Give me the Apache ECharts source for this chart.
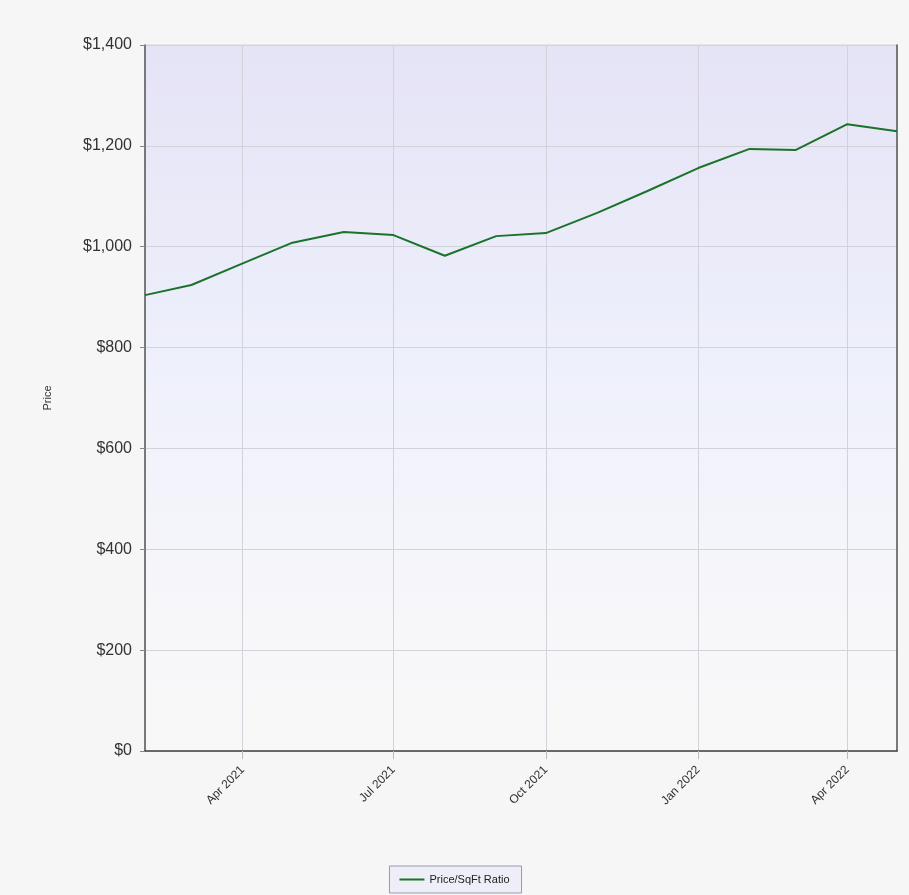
<!DOCTYPE html>
<html>
<head>
<meta charset="utf-8">
<script src="https://cdn.jsdelivr.net/npm/echarts@6/dist/echarts.min.js"></script>
<style>
html,body{margin:0;padding:0;background:#f6f6f6;}
#c{width:909px;height:895px;}
</style>
</head>
<body>
<div id="c"></div>
<script>
const months = ['2021-02-01','2021-03-01','2021-04-01','2021-05-01','2021-06-01','2021-07-01','2021-08-01','2021-09-01','2021-10-01','2021-11-01','2021-12-01','2022-01-01','2022-02-01','2022-03-01','2022-04-01','2022-05-01'];
const pricePerSqFt = [904, 924, 967, 1008, 1029, 1023, 982, 1021, 1027, 1067, 1110, 1156, 1194, 1192, 1243, 1229];
const xTicks = ['2021-04-01','2021-07-01','2021-10-01','2022-01-01','2022-04-01'];
const xTickLabels = ['Apr 2021','Jul 2021','Oct 2021','Jan 2022','Apr 2022'];
const yTicks = [0, 200, 400, 600, 800, 1000, 1200, 1400];
const seriesName = 'Price/SqFt Ratio';

const ts = s => { const p = s.split('-').map(Number); return Date.UTC(p[0], p[1]-1, p[2]); };
const tickTs = xTicks.map(ts);
const labelMap = {};
tickTs.forEach((t,i)=>{ labelMap[t] = xTickLabels[i]; });

const chart = echarts.init(document.getElementById('c'));
chart.setOption({
  backgroundColor: '#f6f6f6',
  animation: false,
  grid: {
    left: 145, right: 12, top: 45, bottom: 144,
    show: true,
    borderColor: '#d6d6d6',
    borderWidth: 1,
    backgroundColor: new echarts.graphic.LinearGradient(0,0,0,1,[
      {offset:0, color:'#e5e3f6'},
      {offset:0.45, color:'#eef0fb'},
      {offset:0.8, color:'#f7f7fa'},
      {offset:1, color:'#f8f8f8'}
    ])
  },
  legend: {
    bottom: 2,
    left: 'center',
    data: [{name: seriesName, icon: 'rect'}],
    itemWidth: 25,
    itemHeight: 2,
    itemGap: 6,
    padding: [8, 12, 8, 10],
    borderColor: '#9a9aa8',
    borderWidth: 1,
    borderRadius: 0,
    backgroundColor: '#eeeef8',
    textStyle: {fontFamily: 'Liberation Sans, Arial, sans-serif', fontSize: 11, color: '#222'}
  },
  xAxis: {
    type: 'value',
    min: ts(months[0]),
    max: ts(months[months.length-1]),
    axisLine: {show: true, lineStyle: {color: '#444', width: 1.5}},
    axisTick: {show: true, length: 8, customValues: tickTs, lineStyle: {color: '#bbb'}},
    axisLabel: {
      customValues: tickTs,
      rotate: 45,
      margin: 17,
      fontFamily: 'Liberation Sans, Arial, sans-serif',
      fontSize: 12,
      color: '#333',
      formatter: v => labelMap[v] || ''
    },
    splitLine: {show: true, lineStyle: {color: '#d2d2da', width: 1}}
  },
  yAxis: [{
    type: 'value',
    min: 0, max: 1400, interval: 200,
    name: 'Price',
    nameLocation: 'middle',
    nameGap: 92,
    nameTextStyle: {fontFamily: 'Liberation Sans, Arial, sans-serif', fontSize: 11, color: '#333'},
    axisLine: {show: true, lineStyle: {color: '#555', width: 1.5}},
    axisTick: {show: true, length: 5, lineStyle: {color: '#888'}},
    axisLabel: {
      margin: 13,
      fontFamily: 'Liberation Sans, Arial, sans-serif',
      fontSize: 16,
      color: '#333',
      formatter: v => '$' + v.toLocaleString('en-US')
    },
    splitLine: {show: true, lineStyle: {color: '#d2d2da', width: 1}}
  },{
    type: 'value',
    min: 0, max: 1400, interval: 200,
    position: 'right',
    axisLine: {show: true, lineStyle: {color: '#555', width: 1.5}},
    axisTick: {show: false},
    axisLabel: {show: false},
    splitLine: {show: false}
  }],
  series: [{
    name: seriesName,
    type: 'line',
    symbol: 'none',
    data: months.map((m,i)=>[ts(m), pricePerSqFt[i]]),
    lineStyle: {color: '#1b7229', width: 2},
    itemStyle: {color: '#1b7229'}
  }]
});
</script>
</body>
</html>
